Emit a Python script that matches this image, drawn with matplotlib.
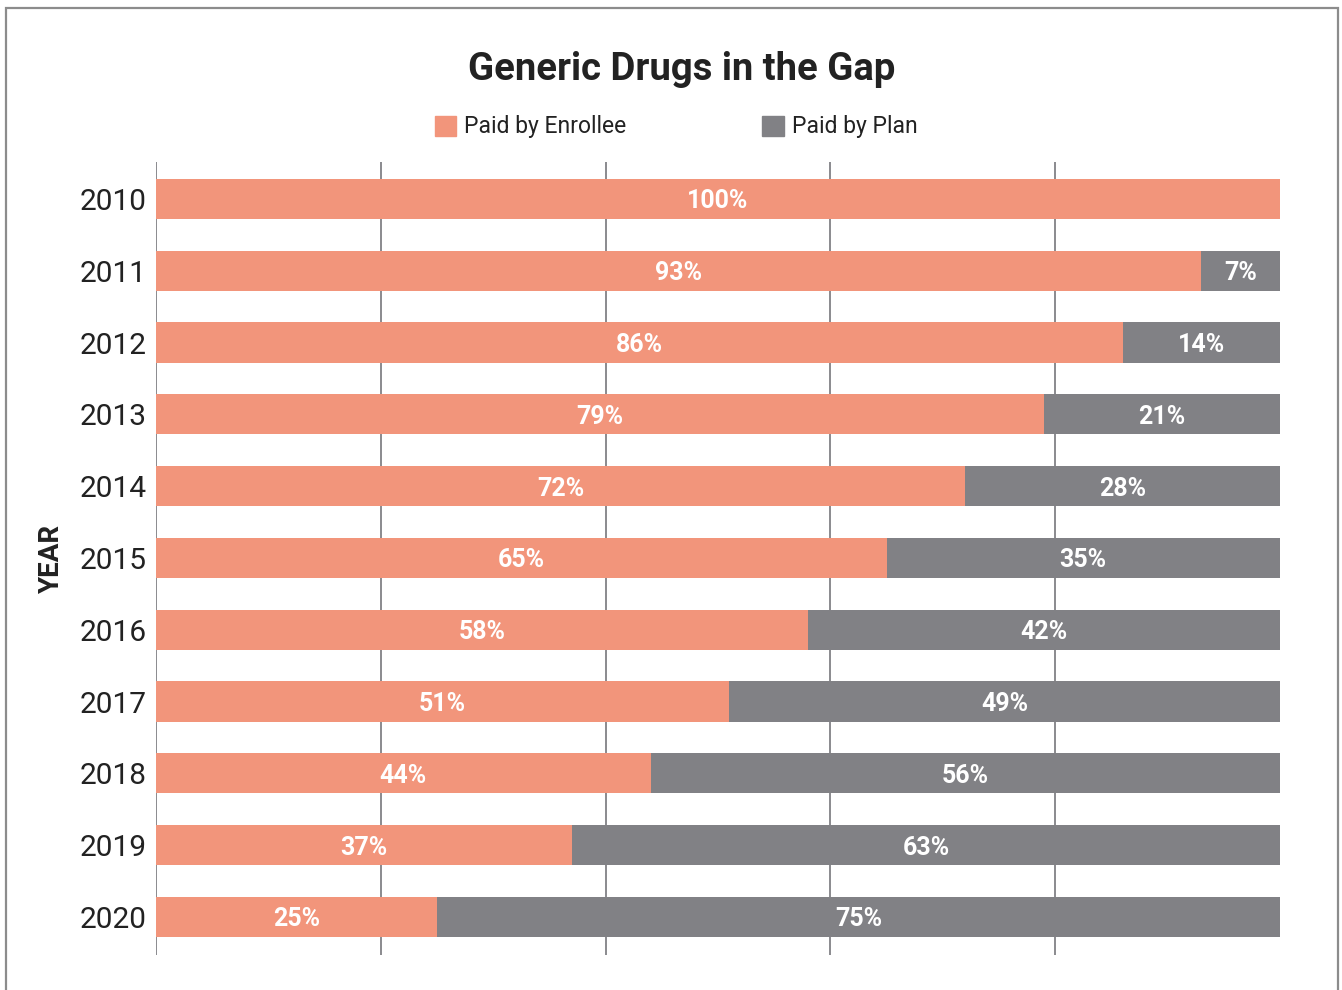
import matplotlib.pyplot as plt
import numpy as np
from matplotlib.patches import Patch, Rectangle

years = ['2010', '2011', '2012', '2013', '2014', '2015', '2016', '2017', '2018', '2019', '2020']
enrollee = [100, 93, 86, 79, 72, 65, 58, 51, 44, 37, 25]
plan = [0, 7, 14, 21, 28, 35, 42, 49, 56, 63, 75]

salmon = '#F2957B'
grey = '#818185'

plt.rcParams['font.family'] = ['Roboto', 'DejaVu Sans']

fig = plt.figure(figsize=(13.42, 9.9), dpi=100)
ax = fig.add_axes([156 / 1342, 1 - 955 / 990, (1280 - 156) / 1342, (955 - 162) / 990])

y = np.arange(len(years))
h = 0.56
ax.barh(y, enrollee, height=h, color=salmon, zorder=2, label='Paid by Enrollee')
ax.barh(y, plan, left=enrollee, height=h, color=grey, zorder=2, label='Paid by Plan')

# value labels in the middle of each segment
for i in range(len(years)):
    ax.text(enrollee[i] / 2, y[i], f'{enrollee[i]}%', ha='center', va='center_baseline',
            color='white', fontsize=18, fontweight='bold', zorder=3)
    if plan[i] > 0:
        ax.text(enrollee[i] + plan[i] / 2, y[i], f'{plan[i]}%', ha='center', va='center_baseline',
                color='white', fontsize=18, fontweight='bold', zorder=3)

ax.set_xlim(0, 100)
ax.set_ylim(10.53, -0.515)
ax.set_xticks([0, 20, 40, 60, 80])
ax.xaxis.grid(True, color='#8a8a8e', linewidth=1.4, zorder=0)
ax.tick_params(axis='x', length=0, labelbottom=False)
ax.tick_params(axis='y', length=0, pad=7, labelsize=21.5, labelcolor='#222222')
ax.set_yticks(y)
ax.set_yticklabels(years)
for s in ax.spines.values():
    s.set_visible(False)

ax.set_ylabel('YEAR', fontsize=20, fontweight='bold', color='#222222', labelpad=10)

fig.text(682 / 1342, 1 - 70 / 990, 'Generic Drugs in the Gap', ha='center', va='center',
         fontsize=27.5, fontweight='bold', color='#222222')

handles = [Patch(color=salmon, label='Paid by Enrollee'), Patch(color=grey, label='Paid by Plan')]
fig.legend(handles=handles, loc='center', bbox_to_anchor=(676 / 1342, 1 - 127 / 990), ncol=2,
           frameon=False, fontsize=16.5, handlelength=0.95, handleheight=0.95, handletextpad=0.35,
           columnspacing=5.9, labelcolor='#222222')

# panel frame
fig.patches.append(Rectangle((6 / 1342, -0.05), (1338 - 6) / 1342, 1.05 - 8 / 990,
                             transform=fig.transFigure, fill=False, edgecolor='#8c8c8c',
                             linewidth=1.6))

fig.savefig('out.png', dpi=100)
